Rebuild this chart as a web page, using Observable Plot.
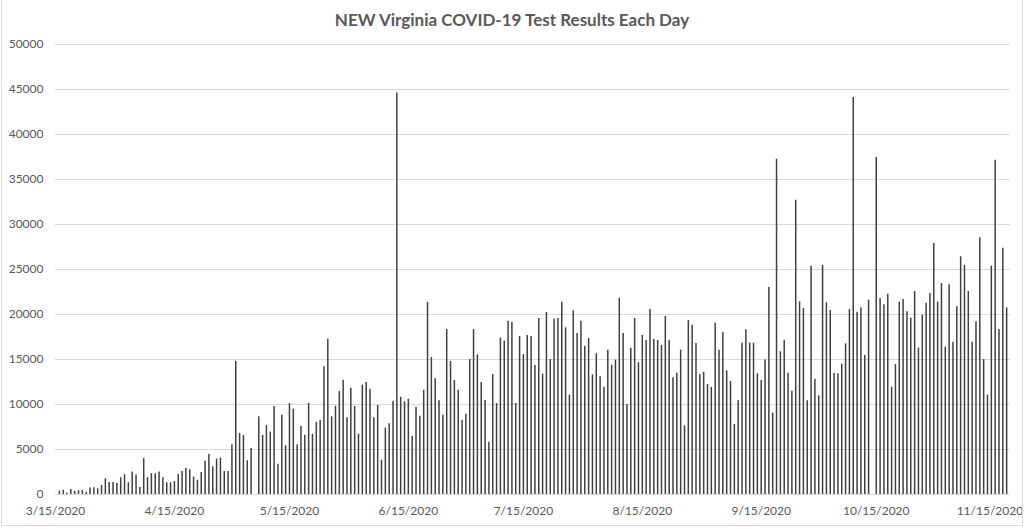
<!DOCTYPE html>
<html>
<head>
<meta charset="utf-8">
<script src="https://cdn.jsdelivr.net/npm/d3@7"></script>
<script src="https://cdn.jsdelivr.net/npm/@observablehq/plot@0.6"></script>
<style>
  html, body { margin: 0; padding: 0; background: #fff; }
  #wrap { position: relative; width: 1024px; height: 529px; overflow: hidden; font-family: Lato, sans-serif; background: #fff; }
  #title { padding-top: 10px; height: 20px; line-height: 20px; text-align: center; font-weight: bold; font-size: 17px; color: #595959; }
  #frame { position: absolute; left: 1px; top: -2px; width: 1022px; height: 528px; border: 1px solid #d9d9d9; box-sizing: border-box; pointer-events: none; }
  #chart svg { display: block; }
</style>
</head>
<body>
<div id="wrap">
  <div id="title">NEW Virginia COVID-19 Test Results Each Day</div>
  <div id="chart"></div>
  <div id="frame"></div>
</div>
<script>
// First day of the series (3/15/2020); one value per consecutive day.
const startDay = [2020, 2, 15];
// Daily new test results, by month
const mar = [0, 370, 480, 150, 560, 340, 410, 450, 260, 710, 750, 630, 1000, 1750, 1340, 1340, 1230];
const apr = [1860, 2200, 1300, 2500, 2160, 780, 3990, 1860, 2310, 2310, 2500, 1860, 1300, 1300, 1430,
             2210, 2550, 2890, 2740, 1930, 1590, 2440, 3700, 4480, 3070, 3930, 4040, 2560, 2560, 5520];
const may = [14810, 6780, 6560, 3740, 5110, 0, 8630, 6560, 7630, 6930, 9780, 3370, 8810, 5420, 10090, 9480,
             5520, 7560, 6590, 10110, 6700, 8000, 8220, 14190, 17260, 8630, 9810, 11440, 12700, 8520, 11810];
const jun = [9780, 6700, 12150, 12440, 11700, 8520, 9890, 3810, 7370, 7850, 10370, 44600, 10810, 10300, 10590,
             6440, 9670, 8700, 11590, 21370, 15220, 12850, 10410, 8810, 18330, 14780, 12670, 11590, 8260, 8930];
const jul = [15000, 18330, 15520, 12440, 10440, 5810, 13330, 10110, 17370, 17040, 19260, 19150, 10110, 17560, 15540, 17670,
             17560, 14330, 19560, 13370, 20220, 15000, 19480, 19560, 21370, 18520, 11040, 20410, 17890, 19260, 16480];
const aug = [17330, 13300, 15630, 13070, 11930, 16040, 14370, 14930, 21810, 17890, 10000, 16260, 19560, 14650, 17670, 17110,
             20560, 17220, 17110, 16560, 19780, 17110, 12960, 13480, 16040, 7630, 19330, 18810, 16780, 13330, 13590];
const sep = [12220, 11890, 19040, 16040, 18000, 13740, 12560, 7780, 10410, 16810, 18300, 16810, 16810, 13410, 12670,
             14950, 23000, 9040, 37260, 15850, 17150, 13480, 11480, 32700, 21410, 20670, 10410, 25370, 12810, 10960];
const oct = [25440, 21300, 20440, 13480, 13410, 14480, 16740, 20560, 44100, 20260, 20740, 15440, 21590, 0, 37440, 21780,
             21090, 22260, 11930, 14440, 21370, 21670, 20300, 19590, 22560, 16260, 19930, 21260, 22330, 27890, 21370];
const nov = [23440, 16370, 23300, 16930, 20850, 26410, 25440, 22560, 16930, 19190, 28520, 15000, 11040, 25370, 37150,
             18330, 27370, 20740];
// Axis ticks
const yTicks = [0, 5000, 10000, 15000, 20000, 25000, 30000, 35000, 40000, 45000, 50000];
const xTickLabels = ["2020-03-15", "2020-04-15", "2020-05-15", "2020-06-15", "2020-07-15",
                     "2020-08-15", "2020-09-15", "2020-10-15", "2020-11-15"];

const values = [...mar, ...apr, ...may, ...jun, ...jul, ...aug, ...sep, ...oct, ...nov];
const start = new Date(Date.UTC(...startDay));
const data = values.map((v, i) => ({ date: new Date(start.getTime() + i * 864e5), value: v }));
const xTicks = xTickLabels.map(s => new Date(s + "T00:00:00Z"));
const end = new Date(start.getTime() + values.length * 864e5);
const fmt = d => `${d.getUTCMonth() + 1}/${d.getUTCDate()}/${d.getUTCFullYear()}`;

const chart = Plot.plot({
  width: 1024,
  height: 499,
  marginTop: 14,
  marginBottom: 35,
  marginLeft: 55,
  marginRight: 14,
  style: { fontFamily: "Lato, sans-serif", fontSize: "12px", color: "#595959", background: "#fff" },
  x: { type: "utc", domain: [start, end], label: null },
  y: { domain: [0, 50000], label: null },
  marks: [
    Plot.gridY(yTicks, { stroke: "#d9d9d9", strokeOpacity: 1 }),
    Plot.ruleY([0], { stroke: "#d9d9d9" }),
    Plot.ruleX(data, { x: "date", y: "value", stroke: "#404040", strokeWidth: 1.5 }),
    Plot.axisY(yTicks, { tickSize: 0, tickPadding: 12, tickFormat: d => String(d), fill: "#595959", label: null }),
    Plot.axisX(xTicks.slice(0, -1), { tickSize: 0, tickPadding: 12, tickFormat: fmt, fill: "#595959", label: null }),
    Plot.axisX(xTicks.slice(-1), { tickSize: 0, tickPadding: 12, tickFormat: fmt, fill: "#595959", label: null, textAnchor: "end", dx: 28 })
  ]
});
document.getElementById("chart").appendChild(chart);
</script>
</body>
</html>
